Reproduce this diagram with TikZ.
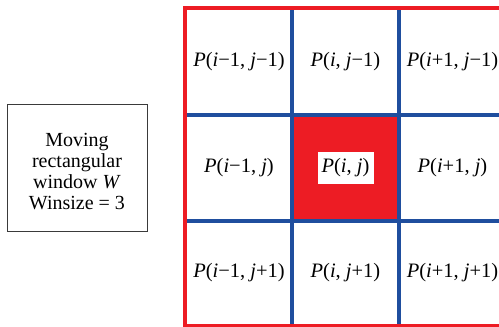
\documentclass[tikz,border=0pt]{standalone}
\usepackage{fontspec}
\setmainfont{Liberation Serif}
\usepackage{xcolor}
\usetikzlibrary{positioning}
\definecolor{winred}{HTML}{ED1C24}
\definecolor{gridblue}{HTML}{1F4E9E}
\definecolor{boxgrey}{HTML}{3A3A3A}

\newcommand{\pix}[2]{\textit{P}(#1, #2)}

\begin{document}
\begin{tikzpicture}[x=1pt, y=-1pt,
  cell/.style={minimum width=107pt, minimum height=106pt, inner sep=0pt, font=\fontsize{20.5}{22}\selectfont},
  gridline/.style={gridblue, line width=3.8pt},
  border/.style={winred, line width=3.8pt}
]
\useasboundingbox (0,0) rectangle (499,327);
% window description
\node[draw=boxgrey, line width=1pt, minimum width=140pt, minimum height=127pt] (info) at (77,167.5) {};
\node[align=center, inner sep=0pt, font=\fontsize{20}{21}\selectfont] (infotxt) at (77,172)
  {Moving\\rectangular\\window \textit{W}\\Winsize = 3};
% centre pixel
\fill[winred] (292,115) rectangle (399,221);
% cells
\node[cell] (c11) at (239,61.5) {\pix{\textit{i}−1}{\textit{j}−1}};
\node[cell] (c21) at (345.5,61.5) {\pix{\textit{i}}{\textit{j}−1}};
\node[cell] (c31) at (452.5,61.5) {\pix{\textit{i}+1}{\textit{j}−1}};
\node[cell] (c12) at (239,168) {\pix{\textit{i}−1}{\textit{j}}};
\node[cell] (c22) at (345.5,168) {};
\node[fill=white, inner sep=3pt, minimum width=56pt, minimum height=32pt,
      font=\fontsize{20.5}{22}\selectfont] (ctr) at (c22.center) {\pix{\textit{i}}{\textit{j}}};
\node[cell] (c32) at (452.5,168) {\pix{\textit{i}+1}{\textit{j}}};
\node[cell] (c13) at (239,273) {\pix{\textit{i}−1}{\textit{j}+1}};
\node[cell] (c23) at (345.5,273) {\pix{\textit{i}}{\textit{j}+1}};
\node[cell] (c33) at (452.5,273) {\pix{\textit{i}+1}{\textit{j}+1}};
% grid lines
\draw[gridline] (c21.north west) -- (c23.south west);
\draw[gridline] (c21.north east) -- (c23.south east);
\draw[gridline] (c12.north west) -- (c32.north east);
\draw[gridline] (c12.south west) -- (c32.south east);
% window border
\draw[border] (c31.north east) -- (c11.north west) -- (c13.south west) -- (c33.south east);
\end{tikzpicture}
\end{document}
